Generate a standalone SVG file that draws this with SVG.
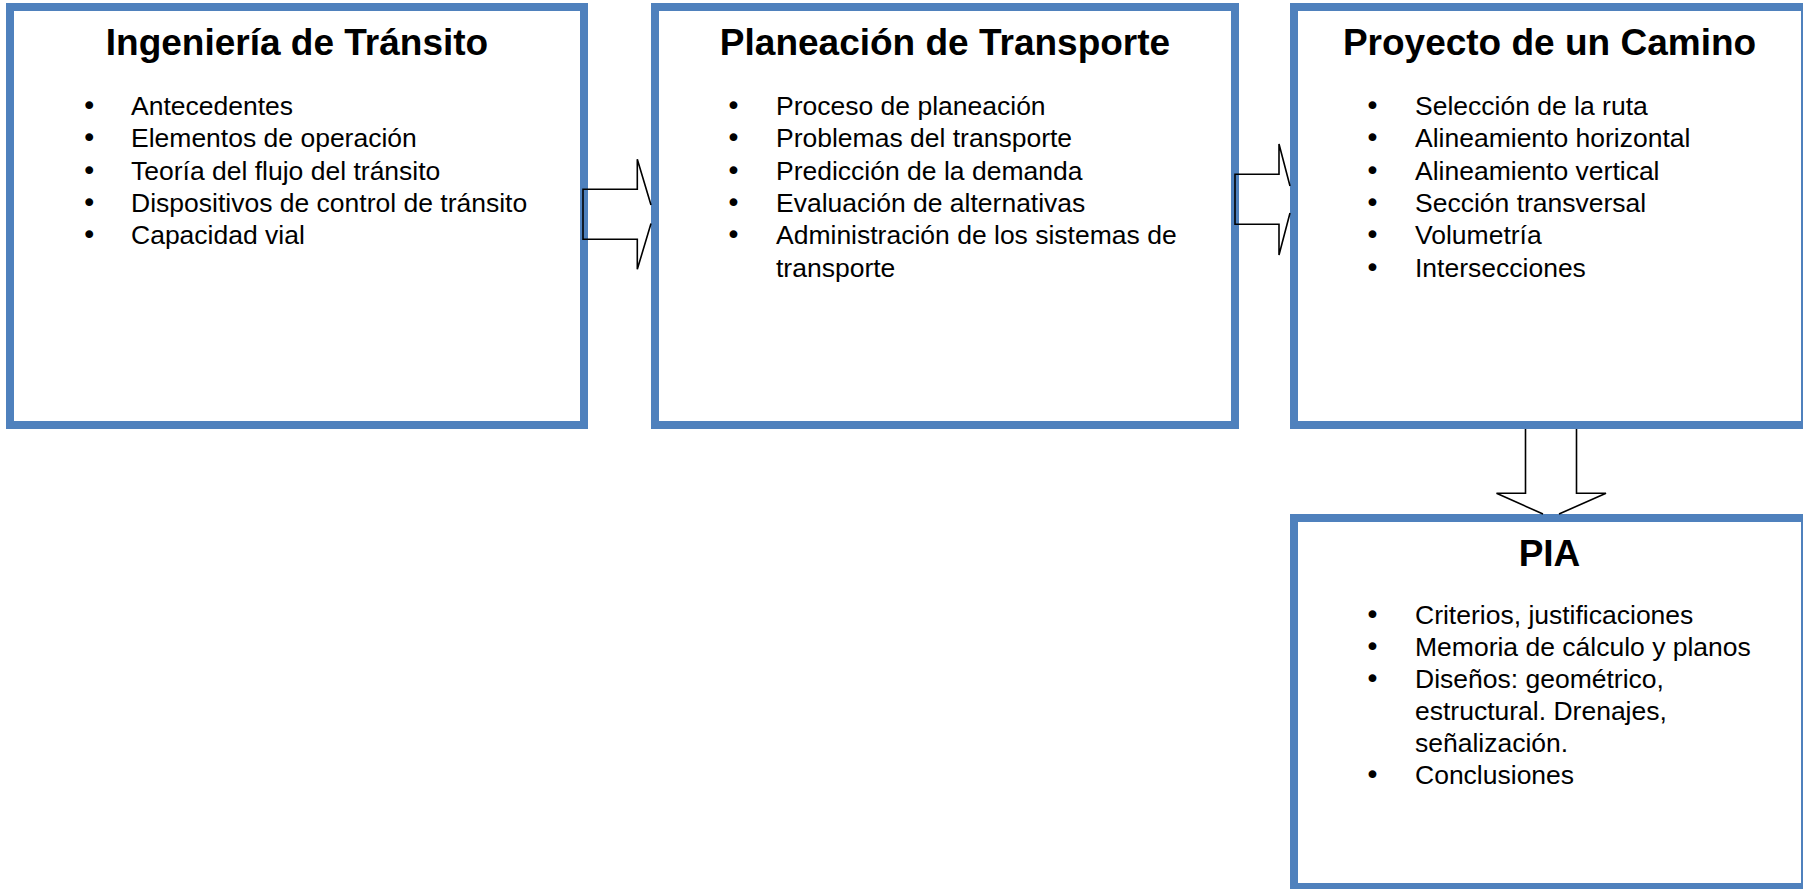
<svg xmlns="http://www.w3.org/2000/svg" width="1803" height="889" viewBox="0 0 1803 889">
<style>
.box{fill:none;stroke:#4F81BD;stroke-width:8}
.arrow{fill:none;stroke:#000;stroke-width:1.6;stroke-linejoin:miter}
.title{font-family:"Liberation Sans",Arial,sans-serif;font-weight:bold;font-size:37px;fill:#000;text-anchor:middle}
.item{font-family:"Liberation Sans",Arial,sans-serif;font-size:26.5px;fill:#000}
.bul{font-family:"DejaVu Sans",sans-serif;font-size:27px;fill:#000;text-anchor:middle}
</style>
<rect width="1803" height="889" fill="#fff"/>
<g id="node-ingenieria">
<rect class="box" x="10" y="7" width="574" height="418"/>
<text class="title" x="297" y="55">Ingeniería de Tránsito</text>
<text class="bul" x="89.3" y="115">•</text><text class="item" x="131" y="115">Antecedentes</text>
<text class="bul" x="89.3" y="147.3">•</text><text class="item" x="131" y="147.3">Elementos de operación</text>
<text class="bul" x="89.3" y="179.6">•</text><text class="item" x="131" y="179.6">Teoría del flujo del tránsito</text>
<text class="bul" x="89.3" y="211.9">•</text><text class="item" x="131" y="211.9">Dispositivos de control de tránsito</text>
<text class="bul" x="89.3" y="244.2">•</text><text class="item" x="131" y="244.2">Capacidad vial</text>
</g>
<g id="node-planeacion">
<rect class="box" x="655" y="7" width="580" height="418"/>
<text class="title" x="945" y="55">Planeación de Transporte</text>
<text class="bul" x="733.5" y="115">•</text><text class="item" x="776" y="115">Proceso de planeación</text>
<text class="bul" x="733.5" y="147.3">•</text><text class="item" x="776" y="147.3">Problemas del transporte</text>
<text class="bul" x="733.5" y="179.6">•</text><text class="item" x="776" y="179.6">Predicción de la demanda</text>
<text class="bul" x="733.5" y="211.9">•</text><text class="item" x="776" y="211.9">Evaluación de alternativas</text>
<text class="bul" x="733.5" y="244.2">•</text><text class="item" x="776" y="244.2">Administración de los sistemas de</text>
<text class="item" x="776" y="276.5">transporte</text>
</g>
<g id="node-proyecto">
<rect class="box" x="1294" y="7" width="511" height="418"/>
<text class="title" x="1549.5" y="55">Proyecto de un Camino</text>
<text class="bul" x="1372.5" y="115">•</text><text class="item" x="1415" y="115">Selección de la ruta</text>
<text class="bul" x="1372.5" y="147.3">•</text><text class="item" x="1415" y="147.3">Alineamiento horizontal</text>
<text class="bul" x="1372.5" y="179.6">•</text><text class="item" x="1415" y="179.6">Alineamiento vertical</text>
<text class="bul" x="1372.5" y="211.9">•</text><text class="item" x="1415" y="211.9">Sección transversal</text>
<text class="bul" x="1372.5" y="244.2">•</text><text class="item" x="1415" y="244.2">Volumetría</text>
<text class="bul" x="1372.5" y="276.5">•</text><text class="item" x="1415" y="276.5">Intersecciones</text>
</g>
<g id="node-pia">
<rect class="box" x="1294" y="518" width="511" height="369"/>
<text class="title" x="1549.5" y="566">PIA</text>
<text class="bul" x="1372.5" y="624">•</text><text class="item" x="1415" y="624">Criterios, justificaciones</text>
<text class="bul" x="1372.5" y="656">•</text><text class="item" x="1415" y="656">Memoria de cálculo y planos</text>
<text class="bul" x="1372.5" y="688">•</text><text class="item" x="1415" y="688">Diseños: geométrico,</text>
<text class="item" x="1415" y="720">estructural. Drenajes,</text>
<text class="item" x="1415" y="752">señalización.</text>
<text class="bul" x="1372.5" y="784">•</text><text class="item" x="1415" y="784">Conclusiones</text>
</g>
<g id="connectors">
<path class="arrow" d="M651,205 L637.3,159.3 L637.3,189.3 L583,189.3 L583,239.3 L637.3,239.3 L637.3,269.3 L651,223.6"/>
<path class="arrow" d="M1290,186 L1279,144 L1279,174.3 L1235,174.3 L1235,224.3 L1279,224.3 L1279,255 L1290,213"/>
<path class="arrow" d="M1543,514 L1496.5,493.3 L1525.5,493.3 L1525.5,429 M1576.5,429 L1576.5,493.3 L1606,493.3 L1559,514"/>
</g>
</svg>
